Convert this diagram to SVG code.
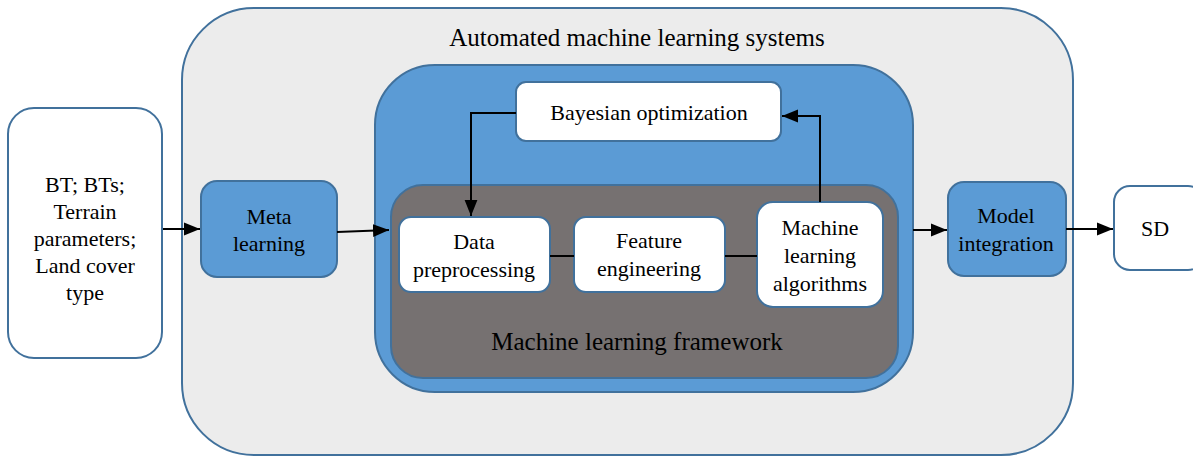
<svg xmlns="http://www.w3.org/2000/svg" width="1193" height="457" viewBox="0 0 1193 457">
<defs>
<style>
text{font-family:"Liberation Serif","Times New Roman","DejaVu Serif",serif;fill:#000;text-anchor:middle}
.n{font-size:22px}
.big{font-size:25px}
.wb{fill:#fff;stroke:#41719c;stroke-width:2}
.bb{fill:#5b9bd5;stroke:#41719c;stroke-width:2}
.c{fill:none;stroke:#000;stroke-width:2}
</style>
<marker id="a" viewBox="0 0 10 10" refX="10" refY="5" markerWidth="16" markerHeight="16" markerUnits="userSpaceOnUse" orient="auto">
<path d="M0,1 L10,5 L0,9 z" fill="#000"/>
</marker>
</defs>
<g id="automl">
<rect x="182" y="8" width="891" height="447" rx="72" fill="#ececec" stroke="#41719c" stroke-width="2"/>
<text class="big" x="637" y="46">Automated machine learning systems</text>
</g>
<g id="input">
<rect class="wb" x="8" y="108" width="154" height="250" rx="26"/>
<text class="n" x="85" y="192">BT; BTs;</text>
<text class="n" x="85" y="219">Terrain</text>
<text class="n" x="85" y="246">parameters;</text>
<text class="n" x="85" y="273">Land cover</text>
<text class="n" x="85" y="300">type</text>
</g>
<g id="meta">
<rect class="bb" x="201" y="181" width="136" height="96" rx="16"/>
<text class="n" x="269" y="224">Meta</text>
<text class="n" x="269" y="251">learning</text>
</g>
<g id="container">
<rect class="bb" x="375" y="65" width="538" height="327" rx="60"/>
</g>
<g id="framework">
<rect x="391" y="185" width="507" height="193" rx="32" fill="#767171" stroke="#41719c" stroke-width="2"/>
<text class="big" x="637" y="350">Machine learning framework</text>
</g>
<g id="bayes">
<rect class="wb" x="516" y="82" width="265" height="59" rx="10"/>
<text class="n" x="649" y="120">Bayesian optimization</text>
</g>
<g id="dataprep">
<rect class="wb" x="399" y="217" width="151" height="75" rx="12"/>
<text class="n" x="474" y="249">Data</text>
<text class="n" x="474" y="277">preprocessing</text>
</g>
<g id="feature">
<rect class="wb" x="574" y="217" width="151" height="75" rx="12"/>
<text class="n" x="649" y="248">Feature</text>
<text class="n" x="649" y="276">engineering</text>
</g>
<g id="mlalg">
<rect class="wb" x="757" y="202" width="126" height="105" rx="16"/>
<text class="n" x="820" y="235">Machine</text>
<text class="n" x="820" y="263">learning</text>
<text class="n" x="820" y="291">algorithms</text>
</g>
<g id="model">
<rect class="bb" x="948" y="182" width="118" height="94" rx="16"/>
<text class="n" x="1006" y="223">Model</text>
<text class="n" x="1006" y="251">integration</text>
</g>
<g id="sd">
<rect class="wb" x="1114" y="186" width="90" height="84" rx="16"/>
<text class="n" x="1155" y="236">SD</text>
</g>
<g id="connectors">
<path class="c" d="M163,229 L200,229" marker-end="url(#a)"/>
<path class="c" d="M337,232 L389,230" marker-end="url(#a)"/>
<path class="c" d="M550,256 L574,256"/>
<path class="c" d="M725,256 L757,256"/>
<path class="c" d="M516,113 L471,113 L471,216" marker-end="url(#a)"/>
<path class="c" d="M820,202 L820,116 L782,116" marker-end="url(#a)"/>
<path class="c" d="M913,230 L947,230" marker-end="url(#a)"/>
<path class="c" d="M1066,229 L1113,229" marker-end="url(#a)"/>
</g>
</svg>
